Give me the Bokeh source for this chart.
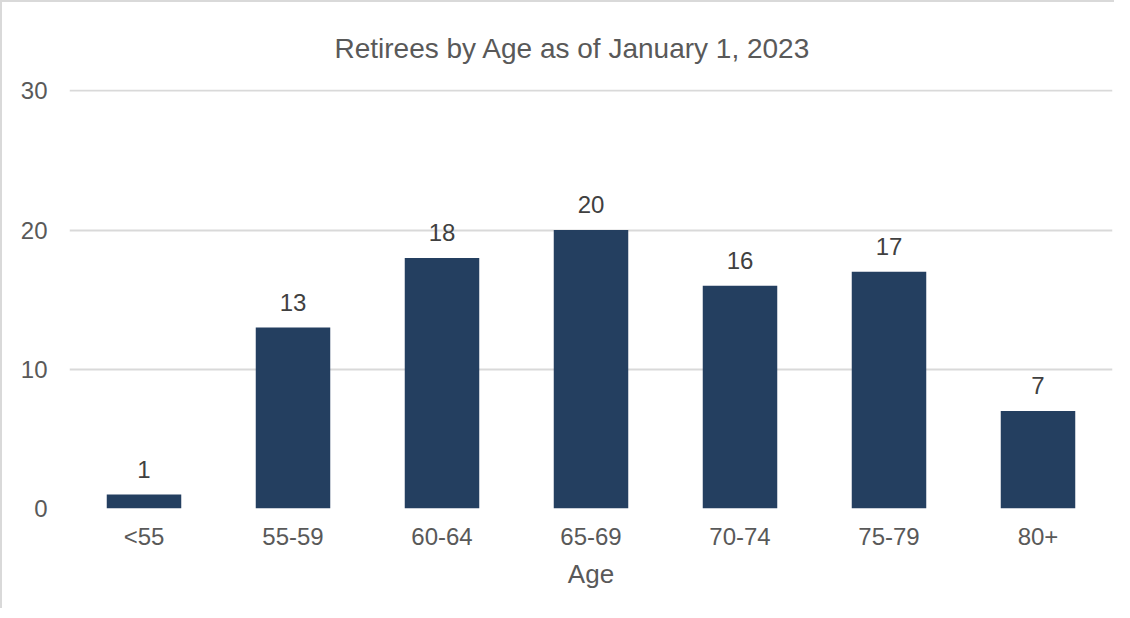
from bokeh.plotting import figure
from bokeh.models import ColumnDataSource, Range1d, FixedTicker, LabelSet, Title
from bokeh.core.properties import value
from bokeh.embed import file_html
from bokeh.resources import INLINE

categories = ["<55", "55-59", "60-64", "65-69", "70-74", "75-79", "80+"]
counts = [1, 13, 18, 20, 16, 17, 7]
y_ticks = [0, 10, 20, 30]
title_text = "Retirees by Age as of January 1, 2023"
x_label = "Age"

FONT = "Liberation Sans"
TXT = "#595959"

src = ColumnDataSource(dict(cat=categories, val=counts, lab=[str(v) for v in counts]))

p = figure(x_range=categories, y_range=Range1d(0, 30.1), width=1114, height=608,
           output_backend="svg", toolbar_location=None,
           min_border_left=67, min_border_right=4, min_border_top=87, min_border_bottom=102,
           styles={"border-top": "2px solid #d9d9d9", "border-left": "2px solid #d9d9d9"})

t = Title(text=title_text, align="left", text_font=FONT, text_font_size="28px",
          text_color=TXT, text_font_style="normal", standoff=52, offset=265)
p.add_layout(t, "above")

p.vbar(x="cat", top="val", width=0.5, source=src, fill_color="#243F60", line_color=None)

labels = LabelSet(x="cat", y="val", text="lab", source=src, text_align="center",
                  text_baseline="alphabetic", y_offset=17, text_font=value(FONT),
                  text_font_size=value("24px"), text_color=value("#404040"))
p.add_layout(labels)

p.x_range.range_padding = 0
p.outline_line_color = None
p.xgrid.grid_line_color = None
p.ygrid.grid_line_color = "#d9d9d9"
p.ygrid.grid_line_width = 2

p.yaxis.ticker = FixedTicker(ticks=y_ticks)
p.yaxis.axis_line_color = None
p.yaxis.major_tick_line_color = None
p.yaxis.minor_tick_line_color = None
p.yaxis.major_tick_out = 0
p.yaxis.major_label_standoff = 22
p.yaxis.major_label_text_font = FONT
p.yaxis.major_label_text_font_size = "24px"
p.yaxis.major_label_text_color = TXT

p.xaxis.axis_line_color = None
p.xaxis.major_tick_line_color = None
p.xaxis.major_tick_out = 0
p.xaxis.major_label_standoff = 14
p.xaxis.major_label_text_font = FONT
p.xaxis.major_label_text_font_size = "24px"
p.xaxis.major_label_text_color = TXT
p.xaxis.axis_label = x_label
p.xaxis.axis_label_text_font = FONT
p.xaxis.axis_label_text_font_size = "26px"
p.xaxis.axis_label_text_font_style = "normal"
p.xaxis.axis_label_text_color = TXT
p.xaxis.axis_label_standoff = 6

open("out.html", "w").write(file_html(p, INLINE))
